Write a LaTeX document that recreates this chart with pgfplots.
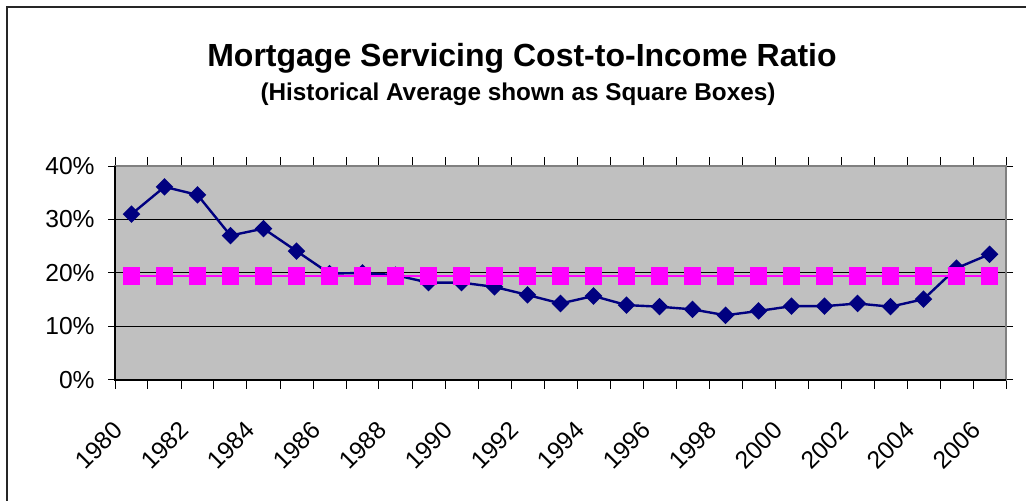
\documentclass[border=0pt]{standalone}
\usepackage{fontspec}
\setmainfont{Liberation Sans}
\usepackage{pgfplots}
\pgfplotsset{compat=1.18}
\definecolor{navyline}{RGB}{0,0,128}
\definecolor{avgpink}{RGB}{255,0,255}
\definecolor{plotgray}{RGB}{192,192,192}
\definecolor{framegray}{RGB}{128,128,128}
\begin{document}
\begin{tikzpicture}
% 1 px of the reference = 0.5pt, origin at bottom left
\path[use as bounding box] (0,0) rectangle (513pt,250.5pt);
\draw[black!85, line width=1pt] (3.5pt,-20pt) -- (3.5pt,247pt) -- (530pt,247pt);

\node[anchor=base, font=\bfseries\fontsize{16}{19}\selectfont] at (261pt,217pt)
  {Mortgage Servicing Cost-to-Income Ratio};
\node[anchor=base, font=\bfseries\fontsize{12.15}{14}\selectfont] at (259pt,200pt)
  {(Historical Average shown as Square Boxes)};

\begin{axis}[
  at={(57.5pt,60.5pt)}, anchor=south west,
  scale only axis, width=445.5pt, height=107pt,
  xmin=1979.5, xmax=2006.5, ymin=0, ymax=40,
  axis background/.style={fill=plotgray},
  axis line style={draw=framegray, line width=1pt},
  ytick={0,10,20,30,40},
  yticklabels={0\%,10\%,20\%,30\%,40\%},
  xtick={1980,1982,...,2006},
  xticklabels={1980,1982,1984,1986,1988,1990,1992,1994,1996,1998,2000,2002,2004,2006},
  minor xtick={1979.5,1980.5,...,2006.5},
  tick align=outside,
  major tick length=3.5pt, minor tick length=4.5pt,
  tick style={black, line width=0.5pt},
  major x tick style={draw=none},
  ymajorgrids, grid style={black, line width=0.5pt},
  tick label style={font=\fontsize{12.3}{14}\selectfont},
  /pgf/number format/assume math mode=true,
  xticklabel style={xshift=-6.5pt, yshift=-19.5pt, rotate=45, anchor=east, inner sep=0pt},
  yticklabel style={xshift=-5.5pt, inner sep=1pt},
  clip=false,
]
\addplot[navyline, line width=1.2pt, mark=square*, mark size=2.5pt,
  mark options={rotate=45, solid, fill=navyline}] coordinates {
  (1980,31.0) (1981,36.1) (1982,34.6) (1983,27.0) (1984,28.3) (1985,24.1)
  (1986,19.9) (1987,20.0) (1988,19.6) (1989,18.2) (1990,18.2) (1991,17.4)
  (1992,15.9) (1993,14.3) (1994,15.7) (1995,14.0) (1996,13.7) (1997,13.2)
  (1998,12.1) (1999,12.9) (2000,13.8) (2001,13.8) (2002,14.3) (2003,13.7)
  (2004,15.1) (2005,20.9) (2006,23.5)};
\addplot[avgpink, line width=1pt, mark=square*, mark size=3.9pt,
  mark options={solid, fill=avgpink}] coordinates {
  (1980,19.4) (1981,19.4) (1982,19.4) (1983,19.4) (1984,19.4) (1985,19.4)
  (1986,19.4) (1987,19.4) (1988,19.4) (1989,19.4) (1990,19.4) (1991,19.4)
  (1992,19.4) (1993,19.4) (1994,19.4) (1995,19.4) (1996,19.4) (1997,19.4)
  (1998,19.4) (1999,19.4) (2000,19.4) (2001,19.4) (2002,19.4) (2003,19.4)
  (2004,19.4) (2005,19.4) (2006,19.4)};
\draw[black, line width=1pt] (rel axis cs:0,1) -- (rel axis cs:0,0) -- (rel axis cs:1,0);
\end{axis}
\end{tikzpicture}
\end{document}
